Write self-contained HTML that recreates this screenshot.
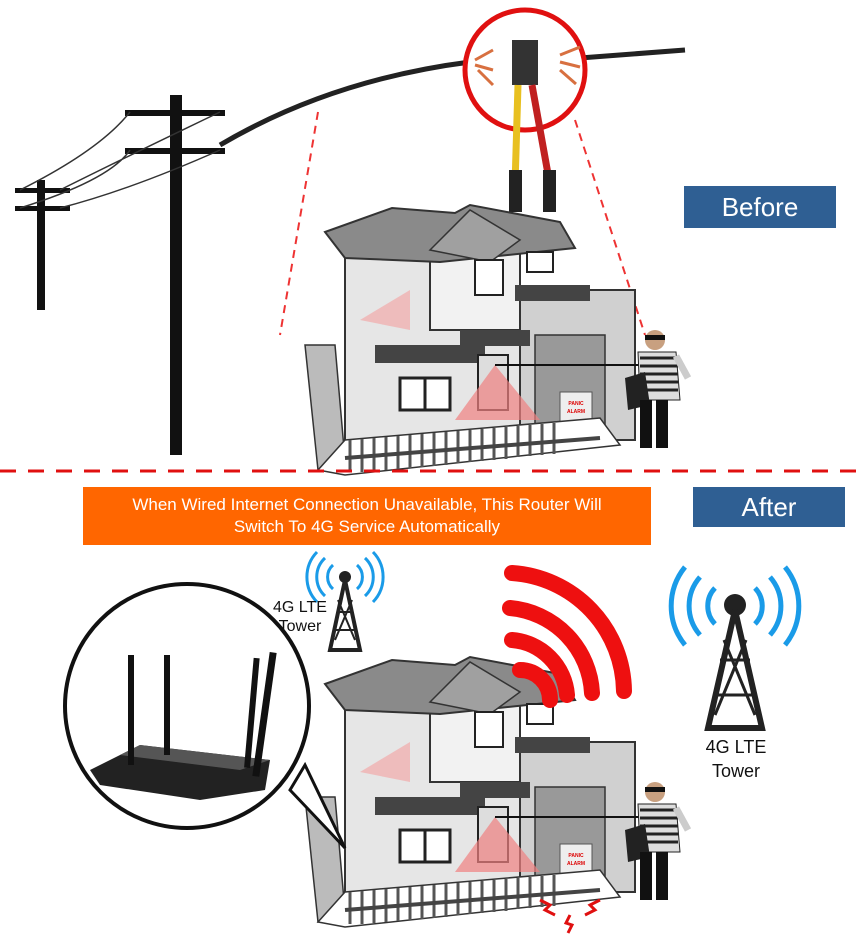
<!DOCTYPE html>
<html><head><meta charset="utf-8"><style>
html,body{margin:0;padding:0;background:#fff;}
svg{display:block;}
text{font-family:"Liberation Sans",Arial,sans-serif;}
</style></head><body>
<svg width="865" height="941" viewBox="0 0 865 941" xmlns="http://www.w3.org/2000/svg">
<defs>
<g id="house">
  <!-- side fence left -->
  <polygon points="305,345 335,345 345,460 318,470" fill="#bbb" stroke="#333" stroke-width="1.5"/>
  <!-- main walls -->
  <rect x="345" y="255" width="175" height="195" fill="#e6e6e6" stroke="#333" stroke-width="2"/>
  <rect x="430" y="240" width="90" height="90" fill="#f2f2f2" stroke="#333" stroke-width="2"/>
  <rect x="520" y="290" width="115" height="150" fill="#d0d0d0" stroke="#333" stroke-width="2"/>
  <rect x="535" y="335" width="70" height="100" fill="#999" stroke="#333" stroke-width="1.5"/>
  <!-- roof -->
  <polygon points="325,232 392,208 455,213 470,205 560,222 575,248 440,262 345,258" fill="#8a8a8a" stroke="#333" stroke-width="2"/>
  <polygon points="430,250 470,210 520,240 490,262" fill="#a0a0a0" stroke="#333" stroke-width="1.5"/>
  <!-- balconies -->
  <rect x="375" y="345" width="110" height="18" fill="#444"/>
  <rect x="460" y="330" width="70" height="16" fill="#444"/>
  <rect x="515" y="285" width="75" height="16" fill="#444"/>
  <!-- window & door -->
  <rect x="400" y="378" width="50" height="32" fill="#fff" stroke="#222" stroke-width="3"/>
  <line x1="425" y1="378" x2="425" y2="410" stroke="#222" stroke-width="3"/>
  <rect x="478" y="355" width="30" height="55" fill="#ddd" stroke="#222" stroke-width="2"/>
  <rect x="475" y="260" width="28" height="35" fill="#fff" stroke="#222" stroke-width="2"/>
  <rect x="527" y="252" width="26" height="20" fill="#fff" stroke="#222" stroke-width="2"/>
  <!-- red motion cone -->
  <polygon points="495,365 455,420 540,420" fill="#f08080" opacity="0.7"/>
  <polygon points="360,320 410,290 410,330" fill="#f4a0a0" opacity="0.6"/>
  <line x1="495" y1="365" x2="640" y2="365" stroke="#111" stroke-width="2"/>
  <!-- panic alarm -->
  <rect x="560" y="392" width="32" height="35" fill="#eee" stroke="#555"/>
  <text x="576" y="405" font-size="5" fill="#d00" text-anchor="middle" font-weight="bold">PANIC</text>
  <text x="576" y="413" font-size="5" fill="#d00" text-anchor="middle" font-weight="bold">ALARM</text>
  <rect x="571" y="425" width="14" height="14" fill="#e00"/>
  <!-- fence front -->
  <polygon points="318,470 345,440 600,418 620,445 345,475" fill="#fff" stroke="#333" stroke-width="1.5"/>
  <path d="M350,440 v32 M362,439 v33 M374,438 v33 M386,437 v33 M398,436 v33 M410,435 v33 M422,434 v33 M434,433 v33 M446,432 v33 M458,431 v32 M470,430 v32 M482,429 v32 M494,428 v32 M506,427 v32 M518,426 v31 M530,425 v31 M542,424 v31 M554,423 v31" stroke="#555" stroke-width="3"/>
  <line x1="345" y1="458" x2="600" y2="438" stroke="#444" stroke-width="4"/>
  <!-- thief -->
  <circle cx="655" cy="340" r="10" fill="#c8a080"/>
  <rect x="645" y="335" width="20" height="5" fill="#111"/>
  <polygon points="638,352 676,352 680,400 640,400" fill="#ddd" stroke="#222"/>
  <path d="M640,358 h38 M640,366 h38 M640,374 h38 M640,382 h38 M640,390 h38" stroke="#222" stroke-width="3"/>
  <polygon points="625,378 645,372 650,405 628,410" fill="#222"/>
  <rect x="640" y="400" width="12" height="48" fill="#111"/>
  <rect x="656" y="400" width="12" height="48" fill="#111"/>
  <line x1="676" y1="356" x2="688" y2="378" stroke="#ccc" stroke-width="7"/>
</g>
</defs>

<!-- power poles -->
<rect x="170" y="95" width="12" height="360" fill="#111"/>
<rect x="125" y="110" width="100" height="6" fill="#111"/>
<rect x="125" y="148" width="100" height="6" fill="#111"/>
<rect x="37" y="180" width="8" height="130" fill="#111"/>
<rect x="15" y="188" width="55" height="5" fill="#111"/>
<rect x="15" y="206" width="55" height="5" fill="#111"/>
<path d="M20,190 Q100,150 130,112 M20,208 Q110,180 130,150 M60,190 Q120,160 220,112 M60,208 Q130,190 220,150" stroke="#333" stroke-width="1.5" fill="none"/>
<!-- cable -->
<path d="M220,145 Q330,80 470,62" stroke="#222" stroke-width="5" fill="none"/>
<path d="M580,58 L685,50" stroke="#222" stroke-width="5" fill="none"/>
<!-- red circle with cutter -->
<line x1="318" y1="112" x2="280" y2="335" stroke="#e33" stroke-width="2" stroke-dasharray="8,6"/>
<line x1="575" y1="120" x2="645" y2="335" stroke="#e33" stroke-width="2" stroke-dasharray="8,6"/>
<circle cx="525" cy="70" r="60" fill="#fff" stroke="#e01010" stroke-width="5"/>
<path d="M475,60 l18,-10 M475,65 l18,5 M478,70 l15,15 M560,55 l20,-8 M560,62 l20,5 M560,70 l16,14" stroke="#d87040" stroke-width="3"/>
<rect x="512" y="40" width="26" height="45" fill="#333"/>
<line x1="518" y1="85" x2="515" y2="185" stroke="#e8c020" stroke-width="7"/>
<line x1="532" y1="85" x2="550" y2="185" stroke="#c02020" stroke-width="7"/>
<rect x="509" y="170" width="13" height="42" fill="#222"/>
<rect x="543" y="170" width="13" height="42" fill="#222"/>

<use href="#house"/>
<use href="#house" transform="translate(0,452)"/>

<!-- Before -->
<rect x="684" y="186" width="152" height="42" fill="#2f5f93"/>
<text x="760" y="216" font-size="26" fill="#fff" text-anchor="middle">Before</text>

<line x1="0" y1="471" x2="865" y2="471" stroke="#e01010" stroke-width="3" stroke-dasharray="16,12"/>

<!-- After -->
<rect x="693" y="487" width="152" height="40" fill="#2f5f93"/>
<text x="769" y="516" font-size="26" fill="#fff" text-anchor="middle">After</text>

<rect x="83" y="487" width="568" height="58" fill="#ff6600"/>
<text x="367" y="510" font-size="17" fill="#fff" text-anchor="middle">When Wired Internet Connection Unavailable, This Router Will</text>
<text x="367" y="532" font-size="17" fill="#fff" text-anchor="middle">Switch To 4G Service Automatically</text>

<!-- small tower -->
<circle cx="345" cy="577" r="6" fill="#222"/>
<polygon points="345,580 330,650 360,650" fill="none" stroke="#222" stroke-width="4"/>
<path d="M337,612 h16 M333,630 h24 M338,600 L355,640 M352,600 L335,640" stroke="#222" stroke-width="2"/>
<g fill="none" stroke="#1a9be8" stroke-width="3">
<path d="M333,565 a16,16 0 0 0 0,24 M357,565 a16,16 0 0 1 0,24"/>
<path d="M325,558 a26,26 0 0 0 0,38 M365,558 a26,26 0 0 1 0,38"/>
<path d="M317,552 a36,36 0 0 0 0,50 M373,552 a36,36 0 0 1 0,50"/>
</g>
<text x="300" y="612" font-size="16" fill="#111" text-anchor="middle">4G LTE</text>
<text x="300" y="631" font-size="16" fill="#111" text-anchor="middle">Tower</text>

<!-- red arcs -->
<g fill="none" stroke="#ee1010" stroke-width="16" stroke-linecap="round">
<path d="M520,670 a30,30 0 0 1 30,30"/>
<path d="M512,640 a60,60 0 0 1 55,55"/>
<path d="M510,608 a90,90 0 0 1 82,85"/>
<path d="M512,573 a120,120 0 0 1 112,118"/>
</g>

<!-- big tower -->
<circle cx="735" cy="605" r="11" fill="#222"/>
<polygon points="735,610 708,728 762,728" fill="none" stroke="#222" stroke-width="6"/>
<path d="M720,660 h30 M714,695 h42 M724,640 L755,715 M746,640 L715,715" stroke="#222" stroke-width="3"/>
<g fill="none" stroke="#1a9be8" stroke-width="5">
<path d="M715,588 a26,26 0 0 0 0,36 M755,588 a26,26 0 0 1 0,36"/>
<path d="M700,577 a44,44 0 0 0 0,58 M770,577 a44,44 0 0 1 0,58"/>
<path d="M685,567 a62,62 0 0 0 0,78 M785,567 a62,62 0 0 1 0,78"/>
</g>
<text x="736" y="753" font-size="18" fill="#111" text-anchor="middle">4G LTE</text>
<text x="736" y="777" font-size="18" fill="#111" text-anchor="middle">Tower</text>

<!-- router circle -->
<polygon points="290,790 345,848 305,765" fill="#fff" stroke="#111" stroke-width="3"/>
<circle cx="187" cy="706" r="122" fill="#fff" stroke="#111" stroke-width="4"/>
<polygon points="90,770 140,745 270,760 265,790 200,800 100,785" fill="#222"/>
<polygon points="140,745 270,760 240,770 120,755" fill="#555"/>
<rect x="128" y="655" width="6" height="110" fill="#111"/>
<rect x="164" y="655" width="6" height="100" fill="#111"/>
<rect x="250" y="658" width="6" height="110" fill="#111" transform="rotate(5 253 700)"/>
<rect x="263" y="652" width="7" height="125" fill="#111" transform="rotate(8 266 700)"/>
<!-- panic sparks -->
<path d="M540,900 l10,5 -5,5 10,5 M600,900 l-10,5 5,5 -10,5 M570,915 l-4,8 6,2 -4,8" stroke="#e01010" stroke-width="3" fill="none"/>
</svg>
</body></html>
